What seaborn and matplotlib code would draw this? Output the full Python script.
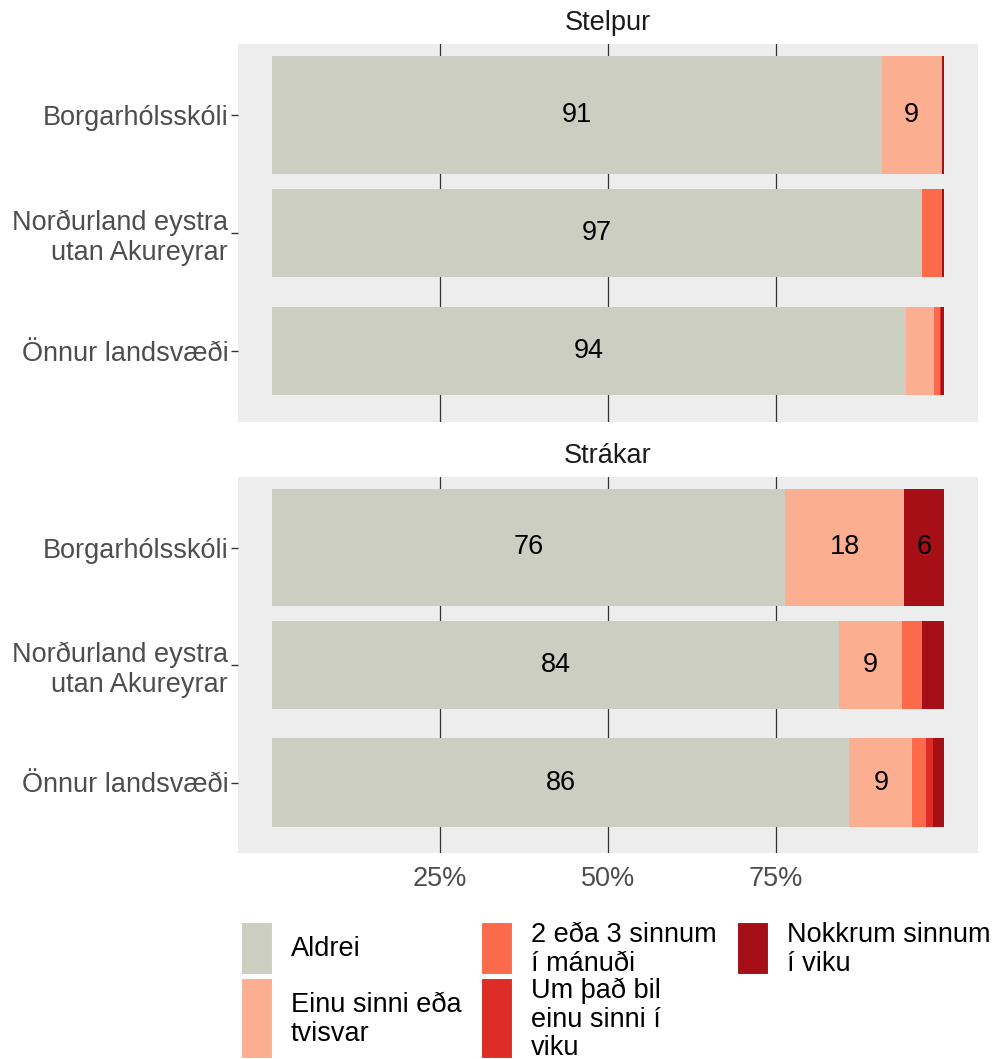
import matplotlib
matplotlib.use("Agg")
import numpy as np
import matplotlib.pyplot as plt
from matplotlib.patches import Rectangle
import seaborn as sns

# Data (percent of pupils)
groups = ["Stelpur", "Strákar"]
schools = ["Borgarhólsskóli", "Norðurland eystra\nutan Akureyrar", "Önnur landsvæði"]
answers = ["Aldrei", "Einu sinni eða\ntvisvar", "2 eða 3 sinnum\ní mánuði",
           "Um það bil\neinu sinni í\nviku", "Nokkrum sinnum\ní viku"]

stelpur_aldrei = [90.7, 96.7, 94.3]
stelpur_einu = [9.0, 0.0, 4.2]
stelpur_2_3 = [0.0, 3.0, 0.9]
stelpur_um = [0.0, 0.0, 0.2]
stelpur_nokkrum = [0.3, 0.3, 0.4]

strakar_aldrei = [76.3, 84.4, 85.9]
strakar_einu = [17.8, 9.3, 9.4]
strakar_2_3 = [0.0, 3.0, 2.0]
strakar_um = [0.0, 0.0, 1.0]
strakar_nokkrum = [5.9, 3.3, 1.7]

x_ticks = [25, 50, 75]
x_tick_labels = ["25%", "50%", "75%"]

colors = ["#CDCEC2", "#FCAE91", "#FB6A4A", "#DE2D26", "#A50F15"]
bar_widths = [1.0, 0.75, 0.75]

sns.set_theme(style="white")
plt.rcParams["font.family"] = ["Liberation Sans", "DejaVu Sans"]

W, H = 998, 1059
fig = plt.figure(figsize=(W / 100, H / 100), dpi=100)


def px_rect(x0, y0, x1, y1):
    """Convert pixel box (top-left origin) to figure fraction rect"""
    return [x0 / W, 1 - y1 / H, (x1 - x0) / W, (y1 - y0) / H]


panels = [
    (groups[0], [stelpur_aldrei, stelpur_einu, stelpur_2_3, stelpur_um, stelpur_nokkrum], (44, 422)),
    (groups[1], [strakar_aldrei, strakar_einu, strakar_2_3, strakar_um, strakar_nokkrum], (477, 853)),
]

FS = 19.5
for idx, (title, layers, (top, bottom)) in enumerate(panels):
    ax = fig.add_axes(px_rect(238, top, 978, bottom))
    ax.set_facecolor("#EDEDED")
    stack = np.array(layers)
    cum = np.cumsum(stack, axis=0)

    # stacked bars: draw cumulative totals from the outside in
    for k in reversed(range(len(layers))):
        sns.barplot(x=cum[k], y=schools, order=schools, orient="h",
                    color=colors[k], saturation=1, width=0.75, linewidth=0,
                    errorbar=None, ax=ax)
        new = ax.patches[-len(schools):]
        for i, p in enumerate(new):
            p.set_y(i - bar_widths[i] / 2)
            p.set_height(bar_widths[i])

    # segment labels
    for k in range(len(layers)):
        for i in range(len(schools)):
            v = stack[k][i]
            if v >= 5:
                ax.text(cum[k][i] - v / 2, i, f"{v:.0f}", ha="center", va="center",
                        fontsize=FS, color="black")

    ax.set_xlim(-5.06, 105.06)
    ax.set_ylim(2.6, -0.6)
    ax.set_xticks(x_ticks)
    ax.grid(axis="x", color="#333333", linewidth=0.9)
    ax.grid(axis="y", visible=False)
    ax.set_axisbelow(True)
    for s in ax.spines.values():
        s.set_visible(False)
    ax.set_xlabel("")
    ax.set_ylabel("")
    ax.tick_params(axis="y", length=5, width=1, color="#333333", pad=2,
                   labelsize=FS, labelcolor="#4D4D4D", left=True)
    ax.tick_params(axis="x", length=0, pad=9, labelsize=FS, labelcolor="#4D4D4D")
    if idx == 0:
        ax.set_xticklabels([])
    else:
        ax.set_xticklabels(x_tick_labels)
    ax.set_title(title, fontsize=FS, color="#1A1A1A", pad=10)

# legend drawn by hand to match the ggplot layout
key_x = [241, 481, 737]
key_rows = [(922, 975), (978, 1059)]
slots = [(0, 0), (0, 1), (1, 0), (1, 1), (2, 0)]
for (c, r), lab, col in zip(slots, answers, colors):
    y0, y1 = key_rows[r]
    fig.patches.append(Rectangle((key_x[c] / W, 1 - y1 / H), 32 / W, (y1 - y0) / H,
                                 transform=fig.transFigure, facecolor=col,
                                 edgecolor="white", linewidth=1.5))
    fig.text((key_x[c] + 50) / W, 1 - ((y0 + y1) / 2 + 1) / H, lab, ha="left", va="center",
             fontsize=FS, color="black", linespacing=1.12)

fig.savefig("out.png", dpi=100)
